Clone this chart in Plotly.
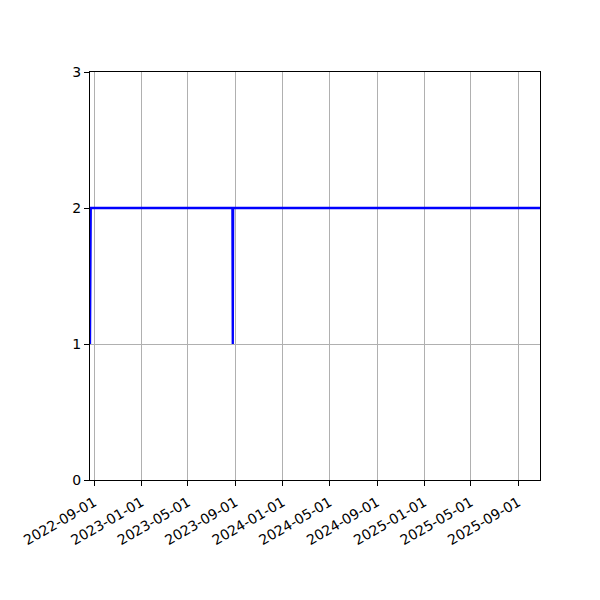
import plotly.graph_objects as go

# Data
dates = ["2022-08-21", "2022-08-23", "2023-08-24", "2023-08-25", "2023-08-26", "2025-10-27"]
values = [1, 2, 2, 1, 2, 2]
tick_dates = ["2022-09-01", "2023-01-01", "2023-05-01", "2023-09-01", "2024-01-01",
              "2024-05-01", "2024-09-01", "2025-01-01", "2025-05-01", "2025-09-01"]
y_ticks = [0, 1, 2, 3]

fig = go.Figure()
fig.add_trace(go.Scatter(x=dates, y=values, mode="lines",
                         line=dict(color="#0000ff", width=2.3)))

axis_style = dict(showline=True, linecolor="black", linewidth=1, mirror=True,
                  ticks="outside", ticklen=5, tickcolor="black", tickwidth=1,
                  showgrid=True, gridcolor="#b0b0b0", gridwidth=0.8,
                  zeroline=False, tickfont=dict(family="DejaVu Sans", size=14, color="black"))

fig.update_xaxes(range=["2022-08-21", "2025-10-27"], tickvals=tick_dates, ticktext=tick_dates,
                 tickangle=-30, ticklabelstandoff=3, **axis_style)
fig.update_yaxes(range=[0, 3], tickvals=y_ticks, **axis_style)

fig.update_layout(width=600, height=600, showlegend=False,
                  plot_bgcolor="white", paper_bgcolor="white",
                  margin=dict(l=82, r=68, t=64, b=128))

fig.write_html("out.html")
